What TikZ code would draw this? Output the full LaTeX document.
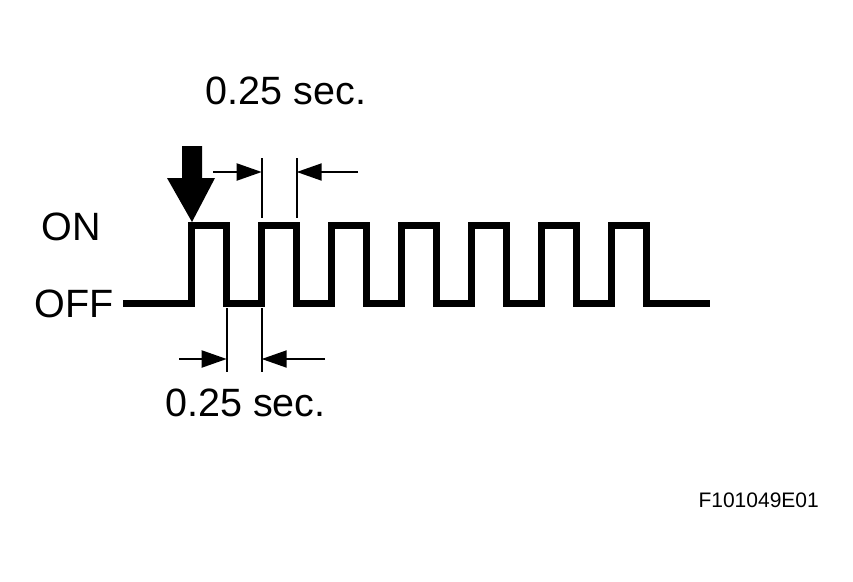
\documentclass[tikz,border=0pt]{standalone}
\usepackage{fontspec}
\setmainfont{Liberation Sans}
\usepackage{tikz}
\usetikzlibrary{arrows.meta,positioning}

\begin{document}
\begin{tikzpicture}[x=1pt,y=-1pt,
		wave/.style={line width=7pt,line join=miter},
		dim/.style={line width=2pt},
		dimarrow/.style={line width=2pt,-{Triangle[length=25pt,width=17pt]}},
		label/.style={font=\fontsize{39.5}{42}\selectfont,inner sep=0pt,anchor=base}]
		\useasboundingbox (0,0) rectangle (853,581);
		
		% pulse train
		\draw[wave] (123,303)
		\foreach \k in {0,...,6} {
			-- ({191.7+70*\k},303) -- ({191.7+70*\k},225)
			-- ({226.7+70*\k},225) -- ({226.7+70*\k},303)
		} -- (710,303);
		
		% start marker
		\fill (182,146) -- (202,146) -- (202,178) -- (215,178) -- (192,222)
		-- (167,178) -- (182,178) -- cycle;
		
		\node[label] (on)  at (71.5,240) {ON};
		\node[label] (off) at (74,317)   {OFF};
		
		% upper 0.25 sec.
		\coordinate (u_a) at (261.7,158);
		\coordinate (u_b) at (296.7,158);
		\coordinate (u_a2) at (261.7,218);
		\coordinate (u_b2) at (296.7,218);
		\coordinate (u_l) at (213,172);
		\coordinate (u_r) at (358,172);
		\draw[dim] (u_a) -- (u_a2);
		\draw[dim] (u_b) -- (u_b2);
		\draw[dimarrow] (u_l) -- (u_l -| u_a);
		\draw[dimarrow] (u_r) -- (u_r -| u_b);
		\node[label] (t_on) at (286,104.5) {0.25 sec.};
		
		% lower 0.25 sec.
		\coordinate (l_a) at (226.7,308);
		\coordinate (l_b) at (261.7,308);
		\coordinate (l_a2) at (226.7,372);
		\coordinate (l_b2) at (261.7,372);
		\coordinate (l_l) at (179,359);
		\coordinate (l_r) at (325,359);
		\draw[dim] (l_a) -- (l_a2);
		\draw[dim] (l_b) -- (l_b2);
		\draw[dimarrow] (l_l) -- (l_l -| l_a);
		\draw[dimarrow] (l_r) -- (l_r -| l_b);
		\node[label] (t_off) at (245.5,416.5) {0.25 sec.};
		
		\node[font=\fontsize{21}{23}\selectfont,inner sep=0pt,anchor=base east] (fig) at (819,507) {F101049E01};
		
\end{tikzpicture}
\end{document}
